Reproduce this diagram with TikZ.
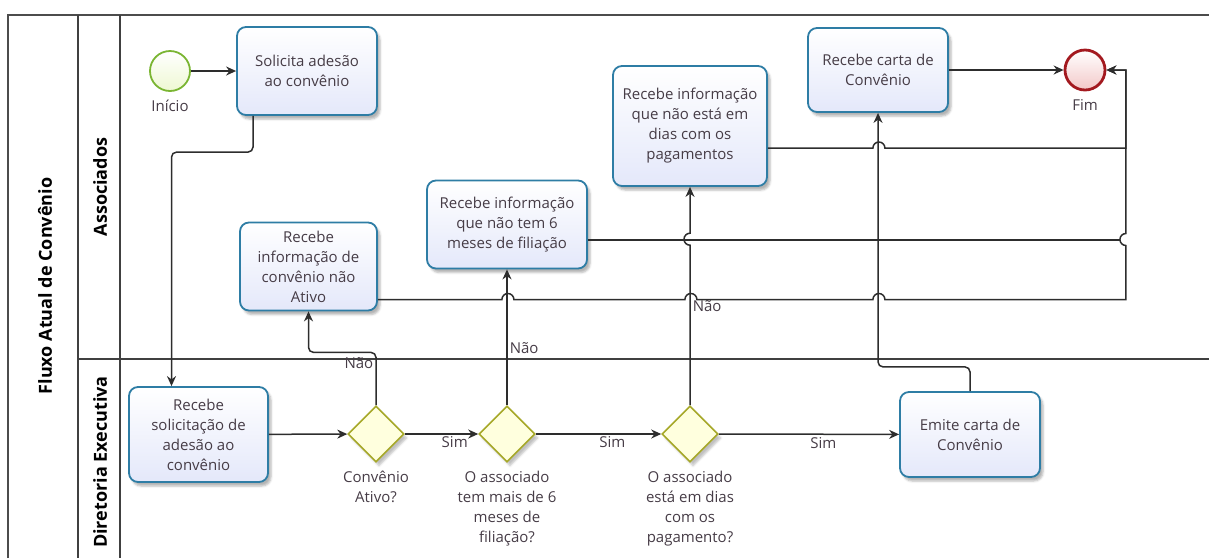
\documentclass[tikz,border=0pt]{standalone}
\usepackage{fontspec}
\setmainfont{Open Sans}
\usetikzlibrary{shapes.geometric,arrows.meta,calc,shadows.blur}

\definecolor{azul}{RGB}{46,125,165}
\definecolor{lavanda}{RGB}{228,232,250}
\definecolor{oliva}{RGB}{166,168,40}
\definecolor{amarelo}{RGB}{255,255,222}
\definecolor{verde}{RGB}{122,181,50}
\definecolor{verdeclaro}{RGB}{238,248,210}
\definecolor{vermelho}{RGB}{163,25,31}
\definecolor{rosa}{RGB}{243,200,200}
\definecolor{linha}{RGB}{45,45,45}
\definecolor{texto}{RGB}{70,60,70}

\begin{document}
\begin{tikzpicture}[x=1pt, y=-1pt]
\tikzset{tarefa/.style={draw=azul, line width=1.8pt, rounded corners=9pt, top color=white, bottom color=lavanda, minimum width=140pt, minimum height=88pt, align=center, text=texto, font=\fontsize{15}{20}\selectfont, blur shadow={shadow xshift=3pt, shadow yshift=-4pt, shadow opacity=30}},
  decisao/.style={draw=oliva, line width=1.6pt, diamond, fill=amarelo, minimum width=56pt, minimum height=56pt, inner sep=0pt, blur shadow={shadow xshift=3pt, shadow yshift=-4pt, shadow opacity=25}},
  inicio/.style={draw=verde, circle, line width=1.8pt, top color=white, bottom color=verdeclaro, minimum size=40pt, inner sep=0pt},
  fim/.style={draw=vermelho, circle, line width=2.8pt, top color=white, bottom color=rosa, minimum size=40pt, inner sep=0pt},
  rotulo/.style={text=texto, font=\fontsize{15}{20}\selectfont, inner sep=2pt, align=center},
  raia/.style={text=black, font=\fontsize{18}{20}\selectfont\bfseries, rotate=90},
  fluxo/.style={draw=linha, line width=1.5pt, -{Stealth[length=10pt,width=9pt]}}}
\useasboundingbox (0,0) rectangle (1209,558);

% piscina e raias
\draw[line width=1.6pt, black!70] (8,558) -- (8,15) -- (1209,15);
\draw[line width=1.2pt, black!75] (78,15) -- (78,558);
\draw[line width=1.2pt, black!75] (120,15) -- (120,558);
\draw[line width=1.2pt, black!75] (78,359) -- (1209,359);
\node[raia] (P) at (45,286) {Fluxo Atual de Convênio};
\node[raia] (R1) at (100,187) {Associados};
\node[raia] (R2) at (100,462) {Diretoria Executiva};

% eventos
\node[inicio, label={[rotulo, label distance=6pt]below:Início}] (I) at (170,71) {};
\node[fim, label={[rotulo, label distance=6pt]below:Fim}] (F) at (1085,70) {};

% tarefas
\node[tarefa] (T1) at (307,71) {Solicita adesão\\ao convênio};
\node[tarefa, minimum width=137pt] (T2) at (308.5,266.5) {Recebe\\informação de\\convênio não\\Ativo};
\node[tarefa, minimum width=160pt] (T3) at (507,224.5) {Recebe informação\\que não tem 6\\meses de filiação};
\node[tarefa, minimum width=154pt, minimum height=120pt] (T4) at (690,126) {Recebe informação\\que não está em\\dias com os\\pagamentos};
\node[tarefa, minimum height=84pt] (T5) at (878,70) {Recebe carta de\\Convênio};
\node[tarefa, minimum width=139pt, minimum height=95pt] (T6) at (198.5,434.5) {Recebe\\solicitação de\\adesão ao\\convênio};
\node[tarefa, minimum height=85pt] (T7) at (970,434.5) {Emite carta de\\Convênio};

% decisoes
\node[decisao, label={[rotulo, label distance=6pt]below:Convênio\\Ativo?}] (D1) at (376,434) {};
\node[decisao, label={[rotulo, label distance=6pt]below:O associado\\tem mais de 6\\meses de\\filiação?}] (D2) at (507,434) {};
\node[decisao, label={[rotulo, label distance=6pt]below:O associado\\está em dias\\com os\\pagamento?}] (D3) at (690,434) {};

% fluxos
\draw[fluxo] (I) -- (T1);
\draw[fluxo, rounded corners=5pt] ($(T1.south)+(-54,0)$) |- ($(T6.north)+(-27,-234)$) -- ($(T6.north)+(-27,0)$);
\draw[fluxo] (T6) -- (D1);
\draw[fluxo, rounded corners=5pt] (D1.north) |- node[rotulo, left, pos=0.4] (N1) {Não} ($(T2.south)+(0,41)$) -- (T2.south);
\draw[fluxo] (D1) -- node[rotulo, below, pos=0.68] (S1) {Sim} (D2);
\draw[fluxo] (D2) -- node[rotulo, right, pos=0.42] (N2) {Não} (T3);
\draw[fluxo] (D2) -- node[rotulo, below, pos=0.61] (S2) {Sim} (D3);
\draw[fluxo] (D3.north) -- node[rotulo, right, pos=0.62] (N3) {Não} ++(0,-160) arc[start angle=270, end angle=90, radius=6pt] -- (T4.south);
\draw[fluxo] (D3) -- node[rotulo, below, pos=0.58] (S3) {Sim} (T7);
\draw[fluxo, rounded corners=5pt] (T7.north) |- ($(T5.south)+(0,254)$) -- (T5.south);
\draw[fluxo] (T5) -- (F);
\draw[fluxo] ($(T2.east)+(0,33)$) -- ++(124,0) arc[start angle=180, end angle=0, radius=6pt] -- ++(171,0) arc[start angle=180, end angle=0, radius=6pt] -- ++(176,0) arc[start angle=180, end angle=0, radius=6pt] -- ++(241,0) -- ++(0,-54) arc[start angle=270, end angle=90, radius=6pt] |- (F.east);
\draw[fluxo, -] ($(T3.east)+(0,15.5)$) -- ++(532,0);
\draw[fluxo] ($(T4.east)+(0,22)$) -- ++(105,0) arc[start angle=180, end angle=0, radius=6pt] -- ++(241,0) |- (F.east);
\end{tikzpicture}
\end{document}
